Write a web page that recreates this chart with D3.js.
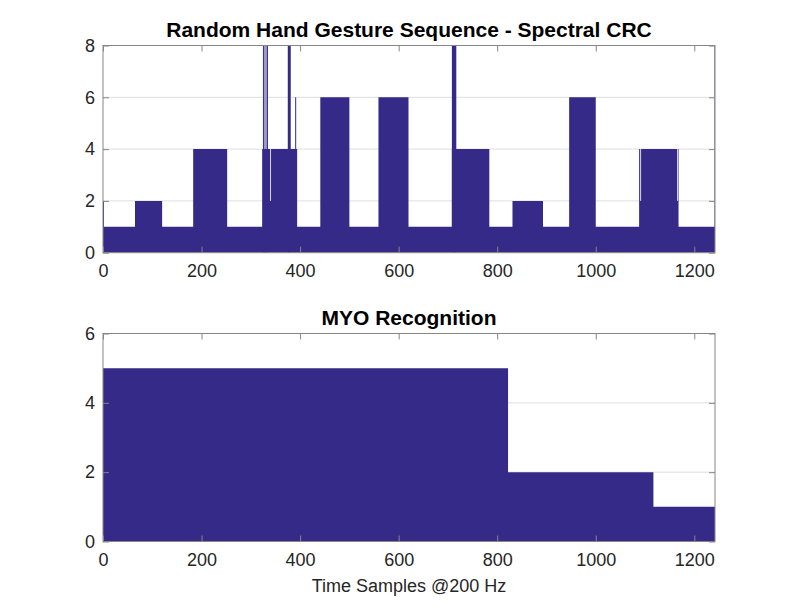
<!DOCTYPE html>
<html>
<head>
<meta charset="utf-8">
<script src="https://cdn.jsdelivr.net/npm/d3@7"></script>
<style>
  body { margin: 0; background: #fff; }
  svg { display: block; font-family: "Liberation Sans", Arial, Helvetica, sans-serif; }
</style>
</head>
<body>
<svg id="chart" width="790" height="609"></svg>
<script>
// --- data ---
const xTicks = [0, 200, 400, 600, 800, 1000, 1200];
const xMax = 1242;

// top panel: gesture blocks (start sample, value); each block ends where the next starts
const crcStart = [0, 65, 120, 183, 252, 323, 394, 441, 500, 559, 620, 708, 784, 831, 893, 946, 1000, 1088, 1168];
const crcValue = [1, 2, 1, 4, 1, 4, 1, 6, 1, 6, 1, 4, 1, 2, 1, 6, 1, 4, 1];
// narrow spikes: start, end, value
const spikeStart = [0, 325.6, 375, 390, 708, 1241];
const spikeEnd   = [2, 333.7, 381, 391, 717, 1242];
const spikeValue = [2, 8, 8, 6, 8, 8];
const spikeHollow = [false, true, false, false, false, false];
// thin white gaps inside blocks: sample, from, to
const gapX    = [340, 1091, 1166];
const gapFrom = [2, 2, 2];
const gapTo   = [4, 4, 4];
const crcYTicks = [0, 2, 4, 6, 8];

// bottom panel: MYO recognition
const myoStart = [0, 822, 1117];
const myoValue = [5, 2, 1];
const myoYTicks = [0, 2, 4, 6];

const navy = "#352A87";
const axisGray = "#868686";
const textGray = "#262626";
const gridGray = "#dedede";

const svg = d3.select("#chart");
svg.append("rect").attr("width", 790).attr("height", 609).attr("fill", "#fff");

const left = 103, right = 715;

function steps(starts, values) {
  const pts = starts.map((s, i) => ({ x: s, v: values[i] }));
  pts.push({ x: xMax, v: values[values.length - 1] });
  return pts;
}

function drawPanel(cfg) {
  const x = d3.scaleLinear().domain([0, xMax]).range([left, right]);
  const y = d3.scaleLinear().domain([0, cfg.yMax]).range([cfg.bottom, cfg.top]);
  const g = svg.append("g");

  const clipId = "clip" + cfg.id;
  g.append("clipPath").attr("id", clipId)
    .append("rect").attr("x", left).attr("y", cfg.top)
    .attr("width", right - left).attr("height", cfg.bottom - cfg.top);

  // y grid
  g.append("g").selectAll("line")
    .data(cfg.yTicks.filter(t => t > 0 && t < cfg.yMax))
    .join("line")
    .attr("x1", left).attr("x2", right)
    .attr("y1", d => y(d)).attr("y2", d => y(d))
    .attr("stroke", gridGray).attr("stroke-width", 1);

  const plot = g.append("g").attr("clip-path", `url(#${clipId})`);

  // spikes go under the blocks so only the part above a block shows
  if (cfg.spikes) {
    plot.selectAll("rect.spike")
      .data(cfg.spikes)
      .join("rect")
      .attr("class", "spike")
      .attr("x", d => x(d.x0)).attr("width", d => Math.max(1, x(d.x1) - x(d.x0)))
      .attr("y", d => y(d.v)).attr("height", d => y(0) - y(d.v))
      .attr("fill", d => d.hollow ? "#9c97c8" : navy)
      .attr("stroke", d => d.hollow ? navy : "none")
      .attr("stroke-width", 1);
  }

  const area = d3.area()
    .x(d => x(d.x))
    .y0(y(0))
    .y1(d => y(d.v))
    .curve(d3.curveStepAfter);

  plot.append("path")
    .datum(steps(cfg.starts, cfg.values))
    .attr("d", area)
    .attr("fill", navy);

  if (cfg.gaps) {
    plot.selectAll("line.gap")
      .data(cfg.gaps)
      .join("line")
      .attr("class", "gap")
      .attr("x1", d => x(d.x)).attr("x2", d => x(d.x))
      .attr("y1", d => y(d.from)).attr("y2", d => y(d.to))
      .attr("stroke", "#ffffff").attr("stroke-opacity", 0.8).attr("stroke-width", 1);
  }

  // axes: ticks inside on all four sides
  const fmt = d3.format("d");
  const axB = g.append("g").attr("transform", `translate(0,${cfg.bottom})`)
    .call(d3.axisBottom(x).tickValues(xTicks).tickSize(-6).tickPadding(12).tickFormat(fmt));
  const axT = g.append("g").attr("transform", `translate(0,${cfg.top})`)
    .call(d3.axisTop(x).tickValues(xTicks).tickSize(-6).tickFormat(""));
  const axL = g.append("g").attr("transform", `translate(${left},0)`)
    .call(d3.axisLeft(y).tickValues(cfg.yTicks).tickSize(-6).tickPadding(8).tickFormat(fmt));
  const axR = g.append("g").attr("transform", `translate(${right},0)`)
    .call(d3.axisRight(y).tickValues(cfg.yTicks).tickSize(-6).tickFormat(""));

  [axB, axT, axL, axR].forEach(a => {
    a.select(".domain").remove();
    a.selectAll(".tick line").attr("stroke", axisGray);
    a.selectAll(".tick text").attr("fill", textGray).style("font-size", "18px");
  });

  g.append("rect")
    .attr("x", left).attr("y", cfg.top)
    .attr("width", right - left).attr("height", cfg.bottom - cfg.top)
    .attr("fill", "none").attr("stroke", axisGray).attr("stroke-width", 1);

  g.append("text")
    .attr("x", (left + right) / 2).attr("y", cfg.top - 8.5)
    .attr("text-anchor", "middle")
    .attr("fill", "#000").style("font-size", "21px").style("font-weight", "bold")
    .text(cfg.title);

  if (cfg.xLabel) {
    g.append("text")
      .attr("x", (left + right) / 2).attr("y", 592)
      .attr("text-anchor", "middle")
      .attr("fill", textGray).style("font-size", "18px")
      .text(cfg.xLabel);
  }
}

drawPanel({
  id: "crc", top: 45.5, bottom: 252.7, yMax: 8, yTicks: crcYTicks,
  starts: crcStart, values: crcValue,
  spikes: spikeStart.map((s, i) => ({ x0: s, x1: spikeEnd[i], v: spikeValue[i], hollow: spikeHollow[i] })),
  gaps: gapX.map((gx, i) => ({ x: gx, from: gapFrom[i], to: gapTo[i] })),
  title: "Random Hand Gesture Sequence - Spectral CRC"
});

drawPanel({
  id: "myo", top: 333.5, bottom: 541.5, yMax: 6, yTicks: myoYTicks,
  starts: myoStart, values: myoValue,
  title: "MYO Recognition",
  xLabel: "Time Samples @200 Hz"
});
</script>
</body>
</html>
